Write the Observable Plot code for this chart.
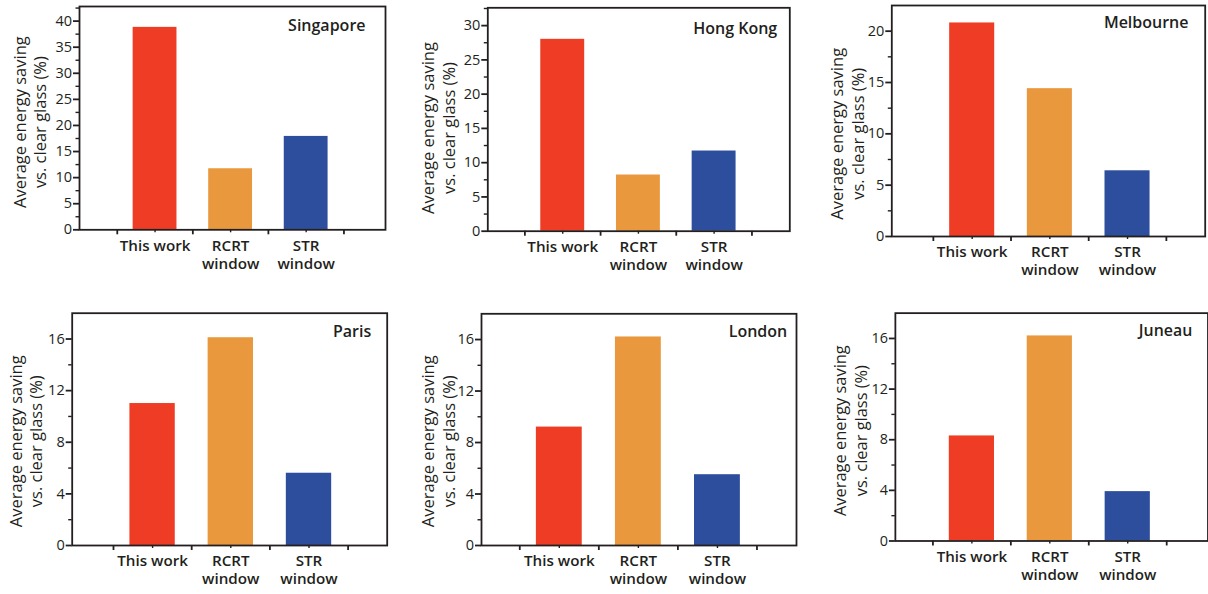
<!DOCTYPE html>
<html>
<head>
<meta charset="utf-8">
<script src="https://cdn.jsdelivr.net/npm/d3@7"></script>
<script src="https://cdn.jsdelivr.net/npm/@observablehq/plot@0.6"></script>
<style>
  html, body { margin: 0; padding: 0; background: #fff; overflow: hidden; }
  #root { position: relative; width: 1208px; height: 594px; overflow: hidden; background: #fff; }
  .panel { position: absolute; }
  .panel svg { overflow: visible; }
</style>
</head>
<body>
<div id="root"></div>
<script>
// ---------------- data ----------------
const cities = ["Singapore", "Hong Kong", "Melbourne", "Paris", "London", "Juneau"];
const categories = ["This work", "RCRT\nwindow", "STR\nwindow"];
const thisWork   = [38.8, 28.0, 20.8, 11.0, 9.2, 8.3];
const rcrtWindow = [11.7,  8.2, 14.4, 16.1, 16.2, 16.2];
const strWindow  = [17.9, 11.7,  6.4,  5.6,  5.5,  3.9];
const yMax  = [42.8, 32.6, 22.5, 18, 18, 18];
const yStep = [5, 5, 5, 4, 4, 4];
const yLabel = "Average energy saving\nvs. clear glass (%)";

// ---------------- styles / layout ----------------
const barColors = ["#ee3d24", "#e9983d", "#2d4e9c"];
const INK = "#231f20";
const FONT = "'Open Sans', 'Noto Sans', sans-serif";
const layout = [
  {left: 0,   top: 0,   width: 400, height: 300, ml: 79,   mr: 15,   mt: 6,    mb: 70.7, xDomain: [0, 4.05],     labelOff: 65.7, labelDy: 4,    cityDx: 20,   cityDy: 24.7},
  {left: 400, top: 0,   width: 400, height: 300, ml: 87.3, mr: 10.7, mt: 7.3,  mb: 69.3, xDomain: [0.01, 4],     labelOff: 65.6, labelDy: 8.5,  cityDx: 12.6, cityDy: 26},
  {left: 808, top: 0,   width: 400, height: 300, ml: 83.3, mr: 3.3,  mt: 5,    mb: 64,   xDomain: [-0.035, 4],   labelOff: 60.6, labelDy: 12.8, cityDx: 16.7, cityDy: 22.3},
  {left: 0,   top: 300, width: 400, height: 294, ml: 71.7, mr: 13.3, mt: 12.7, mb: 49,   xDomain: [-0.028, 4],   labelOff: 62.4, labelDy: 11.9, cityDx: 16,   cityDy: 23.3},
  {left: 400, top: 300, width: 400, height: 294, ml: 81,   mr: 4,    mt: 13.3, mb: 49,   xDomain: [0.016, 4],    labelOff: 59.3, labelDy: 11.6, cityDx: 9.3,  cityDy: 22.7},
  {left: 808, top: 300, width: 402, height: 294, ml: 87.3, mr: 0.5,  mt: 12.7, mb: 52.3, xDomain: [0.018, 4.03], labelOff: 61.3, labelDy: 3.6,  cityDx: 15.8, cityDy: 23}
];

const root = document.getElementById("root");
const series = [thisWork, rcrtWindow, strWindow];

cities.forEach((city, i) => {
  const L = layout[i];
  const rows = categories.map((c, j) => ({category: c, pos: j + 1, value: series[j][i]}));
  const major = d3.range(0, yMax[i] + 1e-9, yStep[i]);
  const minor = d3.range(yStep[i] / 2, yMax[i], yStep[i]);
  const chart = Plot.plot({
    width: L.width,
    height: L.height,
    marginLeft: L.ml,
    marginRight: L.mr,
    marginTop: L.mt,
    marginBottom: L.mb,
    style: {fontFamily: FONT, fontSize: "15px", color: INK, background: "transparent", overflow: "visible"},
    x: {domain: L.xDomain, axis: null, label: null},
    y: {domain: [0, yMax[i]], axis: null, label: null},
    color: {domain: categories, range: barColors},
    marks: [
      Plot.rect(rows, {x1: d => d.pos - 0.29, x2: d => d.pos + 0.29, y1: 0, y2: "value", fill: "category"}),
      Plot.axisY({ticks: minor, tickSize: 3.5, tickFormat: () => "", label: null, strokeWidth: 1.4}),
      Plot.axisY({ticks: major, tickSize: 6, tickPadding: 1.5, label: null, fontSize: 14.5, fontWeight: 500, strokeWidth: 1.8}),
      Plot.axisX({ticks: [0.5, 1.5, 2.5, 3.5], tickSize: 5, tickFormat: () => "", label: null, strokeWidth: 1.8}),
      Plot.axisX({ticks: [1, 2, 3], tickSize: 3, tickPadding: 5.2, label: null, strokeWidth: 1.4,
                  tickFormat: k => categories[k - 1], lineHeight: 1.18, fontSize: 15.2, fontWeight: 600}),
      Plot.frame({stroke: INK, strokeWidth: 1.8}),
      Plot.text([city], {frameAnchor: "top-right", textAnchor: "end", lineAnchor: "bottom",
                         dx: -L.cityDx, dy: L.cityDy, fontSize: 16, fontWeight: 600, fill: INK}),
      Plot.text([yLabel], {frameAnchor: "left", rotate: -90, textAnchor: "middle", lineAnchor: "middle",
                           lineHeight: 1.25, dx: -L.labelOff + 15.6, dy: L.labelDy, fontSize: 16.5, fontWeight: 500, fill: INK})
    ]
  });
  const div = document.createElement("div");
  div.className = "panel";
  div.style.left = L.left + "px";
  div.style.top = L.top + "px";
  div.appendChild(chart);
  root.appendChild(div);
});
</script>
</body>
</html>
